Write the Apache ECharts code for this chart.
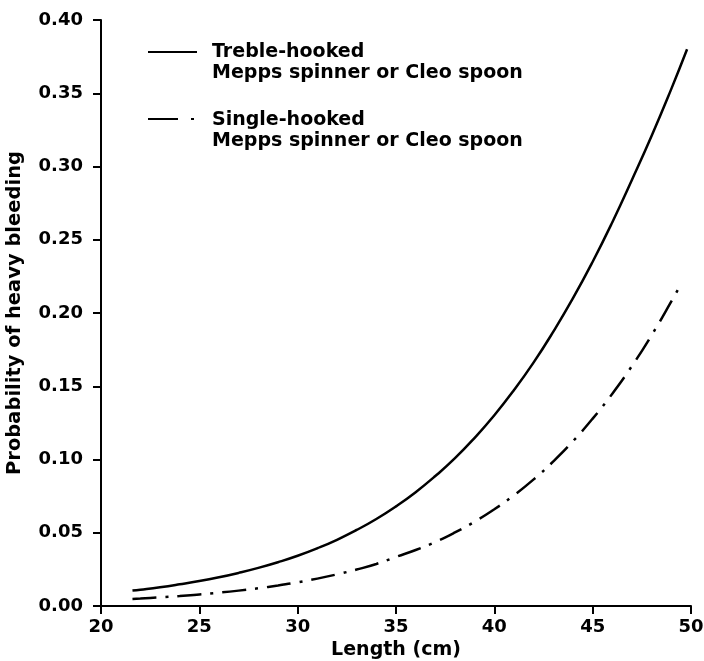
<!DOCTYPE html>
<html lang="en">
<head>
<meta charset="UTF-8">
<title>Probability of heavy bleeding</title>
<script src="https://cdn.jsdelivr.net/npm/echarts@6/dist/echarts.min.js"></script>
<style>
    html, body { margin: 0; padding: 0; background: #fff; }
    #chart { width: 704px; height: 661px; }
</style>
</head>
<body>
<div id="chart"></div>
<script>
// values
var trebleLen = [21.6, 22, 23, 24, 25, 26, 27, 28, 29, 30, 31, 32, 33, 34, 35, 36, 37, 38, 39, 40, 41, 42, 43, 44, 45, 46, 47, 48, 49, 49.8];
var trebleProb = [0.0105, 0.0111, 0.0128, 0.0148, 0.0170, 0.0196, 0.0226, 0.0260, 0.0299, 0.0343, 0.0394, 0.0452, 0.0519, 0.0594, 0.0680, 0.0777, 0.0887, 0.1009, 0.1148, 0.1302, 0.1474, 0.1663, 0.1873, 0.2101, 0.235, 0.262, 0.291, 0.321, 0.353, 0.380];

var singleLen = [21.6, 22, 23, 24, 25, 26, 27, 28, 29, 30, 31, 32, 33, 34, 35, 36, 37, 38, 39, 40, 41, 42, 43, 44, 45, 46, 47, 48, 49, 49.5];
var singleProb = [0.0048, 0.0051, 0.0059, 0.0068, 0.0079, 0.0091, 0.0105, 0.0121, 0.0140, 0.0162, 0.0187, 0.0216, 0.0249, 0.0287, 0.0335, 0.0382, 0.0437, 0.0502, 0.0576, 0.0660, 0.0756, 0.0864, 0.0987, 0.1125, 0.1279, 0.1449, 0.1639, 0.1849, 0.2079, 0.220];

var legendNames = ['Treble-hooked', 'Single-hooked'];
var legendSub = 'Mepps spinner or Cleo spoon';

function pairs(xs, ys) {
    var out = [];
    for (var i = 0; i < xs.length; i++) out.push([xs[i], ys[i]]);
    return out;
}

var font = 'DejaVu Sans';
var legendFont = 'bold 19px "DejaVu Sans"';
var chart = echarts.init(document.getElementById('chart'));

var option = {
    animation: false,
    backgroundColor: '#fff',
    grid: { left: 101, right: 13, top: 20, bottom: 55, containLabel: false, outerBoundsMode: 'none' },
    xAxis: {
        type: 'value',
        min: 20, max: 50, interval: 5,
        name: 'Length (cm)',
        nameLocation: 'middle',
        nameGap: 35,
        nameTextStyle: { color: '#000', fontFamily: font, fontWeight: 'bold', fontSize: 19 },
        axisLine: { lineStyle: { color: '#000', width: 2 } },
        axisTick: { show: true, length: 8, lineStyle: { color: '#000', width: 2 } },
        axisLabel: { color: '#000', fontFamily: font, fontWeight: 'bold', fontSize: 18, margin: 12 },
        splitLine: { show: false }
    },
    yAxis: {
        type: 'value',
        min: 0, max: 0.4, interval: 0.05,
        name: 'Probability of heavy bleeding',
        nameLocation: 'middle',
        nameRotate: 90,
        nameGap: 76,
        nameTextStyle: { color: '#000', fontFamily: font, fontWeight: 'bold', fontSize: 19.5 },
        axisLine: { show: true, lineStyle: { color: '#000', width: 2 } },
        axisTick: { show: true, length: 8, lineStyle: { color: '#000', width: 2 } },
        axisLabel: {
            color: '#000', fontFamily: font, fontWeight: 'bold', fontSize: 18, margin: 18,
            formatter: function (v) { return v.toFixed(2); }
        },
        splitLine: { show: false }
    },
    series: [
        {
            name: legendNames[0],
            type: 'line',
            data: pairs(trebleLen, trebleProb),
            smooth: true,
            showSymbol: false,
            symbol: 'none',
            lineStyle: { color: '#000', width: 2.5, type: 'solid' }
        },
        {
            name: legendNames[1],
            type: 'line',
            data: pairs(singleLen, singleProb),
            smooth: true,
            showSymbol: false,
            symbol: 'none',
            lineStyle: { color: '#000', width: 2.5, type: [24, 9, 3, 9] }
        }
    ],
    graphic: [
        { type: 'line', shape: { x1: 148, y1: 52, x2: 197, y2: 52 }, style: { stroke: '#000', lineWidth: 2 } },
        { type: 'text', style: { text: legendNames[0], x: 212, y: 52, verticalAlign: 'middle', font: legendFont, fill: '#000' } },
        { type: 'text', style: { text: legendSub, x: 212, y: 73, verticalAlign: 'middle', font: legendFont, fill: '#000' } },
        { type: 'line', shape: { x1: 148, y1: 119, x2: 196, y2: 119 }, style: { stroke: '#000', lineWidth: 2, lineDash: [30, 13, 3, 100] } },
        { type: 'text', style: { text: legendNames[1], x: 212, y: 120, verticalAlign: 'middle', font: legendFont, fill: '#000' } },
        { type: 'text', style: { text: legendSub, x: 212, y: 141, verticalAlign: 'middle', font: legendFont, fill: '#000' } }
    ]
};

chart.setOption(option);
</script>
</body>
</html>
